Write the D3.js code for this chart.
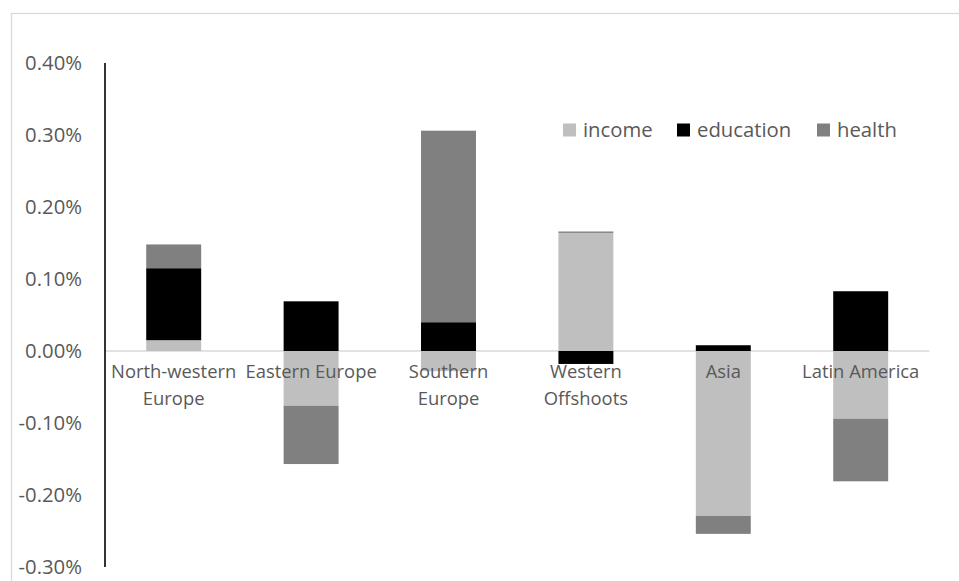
<!DOCTYPE html>
<html>
<head>
<meta charset="utf-8">
<script src="https://cdn.jsdelivr.net/npm/d3@7"></script>
<style>
  body { margin: 0; background: #fff; }
  text { font-family: "Open Sans", sans-serif; fill: #595959; }
</style>
</head>
<body>
<div id="graphic"></div>
<script>
// data (values in %)
var regions = [
  ["North-western", "Europe"],
  ["Eastern Europe"],
  ["Southern", "Europe"],
  ["Western", "Offshoots"],
  ["Asia"],
  ["Latin America"]
];
var seriesNames = ["income", "education", "health"];
var income = [0.015, -0.076, -0.028, 0.164, -0.229, -0.094];
var education = [0.100, 0.069, 0.040, -0.018, 0.008, 0.083];
var health = [0.033, -0.081, 0.266, 0.002, -0.025, -0.087];
var yTicks = [-0.3, -0.2, -0.1, 0, 0.1, 0.2, 0.3, 0.4];
var colours = ["#bfbfbf", "#000000", "#808080"];

var width = 959, height = 581;

var graphic_data = regions.map(function (r, i) {
  return { name: r.join(" "), income: income[i], education: education[i], health: health[i] };
});

var svg = d3.select("#graphic").append("svg")
  .attr("width", width)
  .attr("height", height);

// chart area border (right/bottom fall outside the frame)
svg.append("rect")
  .attr("x", 11.5).attr("y", 13.5)
  .attr("width", 1000).attr("height", 1000)
  .attr("fill", "none")
  .attr("stroke", "#d9d9d9")
  .attr("stroke-width", 1.3);

var x = d3.scaleBand()
  .domain(graphic_data.map(function (d) { return d.name; }))
  .range([105, 929.4])
  .paddingInner(0.6)
  .paddingOuter(0.3);

var y = d3.scaleLinear().domain([-0.3, 0.4]).range([567, 63]);

// y tick labels
svg.append("g").selectAll("text")
  .data(yTicks)
  .enter().append("text")
  .attr("x", 82)
  .attr("y", function (d) { return y(d); })
  .attr("dy", "0.35em")
  .attr("text-anchor", "end")
  .style("font-size", "20.3px")
  .text(function (d) { return d.toFixed(2) + "%"; });

// zero line
svg.append("line")
  .attr("x1", 105).attr("x2", 929.4)
  .attr("y1", y(0)).attr("y2", y(0))
  .attr("stroke", "#d9d9d9")
  .attr("stroke-width", 1.3);

// stacked bars
var stack = d3.stack()
  .keys(seriesNames)
  .offset(d3.stackOffsetDiverging);

var series = stack(graphic_data);

var layer = svg.selectAll(".layer")
  .data(series)
  .enter().append("g")
  .attr("class", "layer")
  .style("fill", function (_, i) { return colours[i]; });

layer.selectAll("rect")
  .data(function (d) { return d; })
  .enter().append("rect")
  .attr("x", function (d) { return x(d.data.name); })
  .attr("y", function (d) { return y(Math.max(d[0], d[1])); })
  .attr("width", x.bandwidth())
  .attr("height", function (d) { return Math.abs(y(d[0]) - y(d[1])); });

// category labels
var labels = svg.append("g").selectAll("text")
  .data(regions)
  .enter().append("text")
  .attr("text-anchor", "middle")
  .attr("x", function (d) { return x(d.join(" ")) + x.bandwidth() / 2; })
  .attr("y", 378)
  .attr("dy", "0.35em")
  .style("font-size", "18.4px");

labels.selectAll("tspan")
  .data(function (d) { return d; })
  .enter().append("tspan")
  .attr("x", function () { var p = d3.select(this.parentNode).datum(); return x(p.join(" ")) + x.bandwidth() / 2; })
  .attr("dy", function (d, i) { return i === 0 ? 0 : 27; })
  .text(function (d) { return d; });

// vertical axis line
svg.append("line")
  .attr("x1", 105).attr("x2", 105)
  .attr("y1", y(0.4)).attr("y2", y(-0.3))
  .attr("stroke", "#000")
  .attr("stroke-width", 1.6);

// legend
var legendX = [563, 677, 817];
var legend = svg.append("g").selectAll("g")
  .data(seriesNames)
  .enter().append("g")
  .attr("transform", function (d, i) { return "translate(" + legendX[i] + ",130)"; });

legend.append("rect")
  .attr("x", 0).attr("y", -6.5)
  .attr("width", 13).attr("height", 13)
  .style("fill", function (d, i) { return colours[i]; });

legend.append("text")
  .attr("x", 20)
  .attr("dy", "0.35em")
  .style("font-size", "20.3px")
  .text(function (d) { return d; });
</script>
</body>
</html>
